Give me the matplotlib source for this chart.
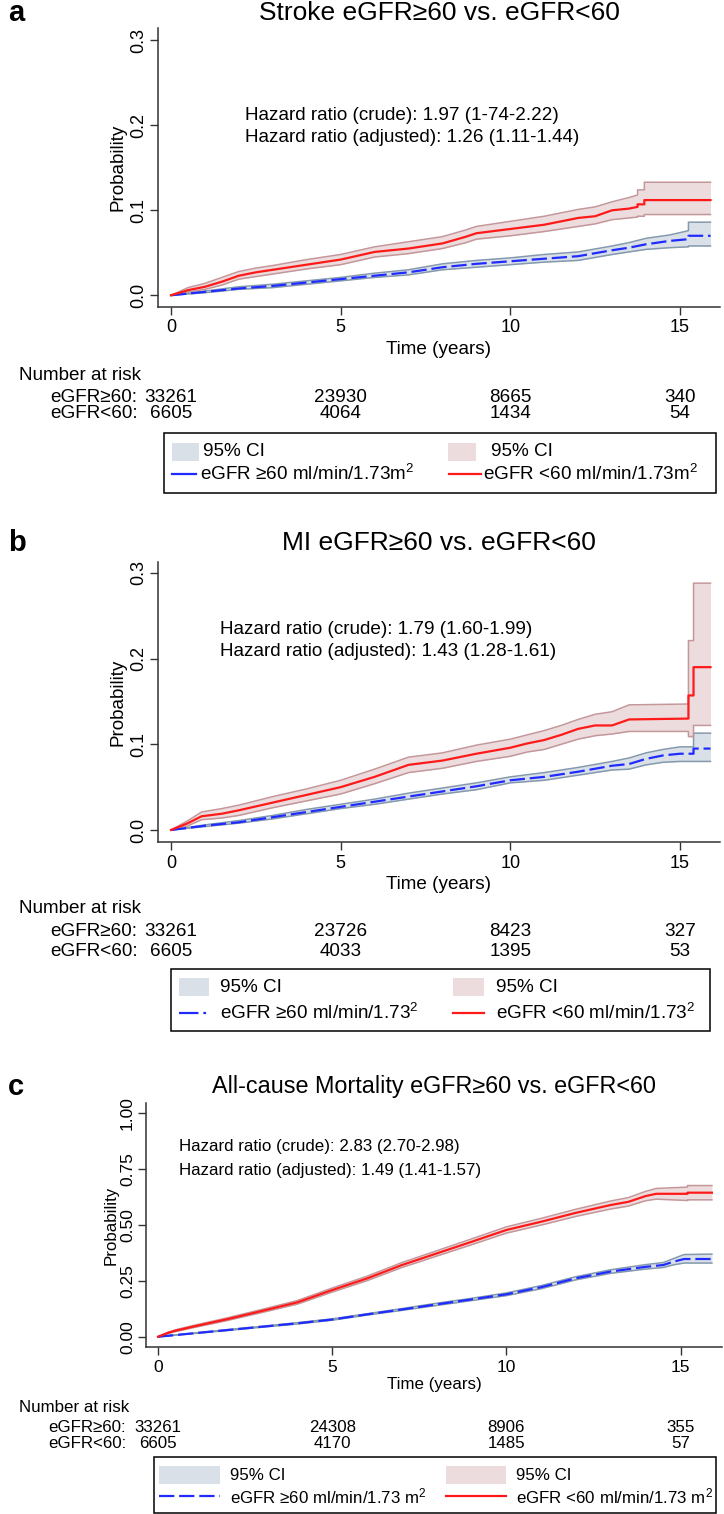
import matplotlib
matplotlib.use('Agg')
import matplotlib.pyplot as plt
from matplotlib.patches import Rectangle
from matplotlib.lines import Line2D
from matplotlib.transforms import blended_transform_factory

plt.rcParams['font.family'] = ['Liberation Sans', 'DejaVu Sans']
plt.rcParams['lines.scale_dashes'] = False
plt.rcParams['mathtext.fontset'] = 'custom'
plt.rcParams['mathtext.rm'] = 'Liberation Sans'
plt.rcParams['mathtext.it'] = 'Liberation Sans:italic'
plt.rcParams['mathtext.bf'] = 'Liberation Sans:bold'

# ---------------- data ----------------
# Panel a: Stroke
a_title = "Stroke eGFR≥60 vs. eGFR<60"
a_hr = ["Hazard ratio (crude): 1.97 (1-74-2.22)", "Hazard ratio (adjusted): 1.26 (1.11-1.44)"]
a_b_t  = [0, 1, 2, 3, 4, 5, 6, 7, 8, 9, 10, 11, 12, 13, 13.5, 14, 14.7, 15.25, 15.25, 15.9]
a_b_y  = [0, .004, .008, .011, .015, .019, .023, .027, .033, .037, .040, .043, .046, .053, .056, .060, .064, .066, .070, .070]
a_b_hi = [0, .005, .010, .013, .017, .021, .026, .030, .037, .041, .044, .048, .051, .058, .062, .067, .071, .076, .086, .086]
a_b_lo = [0, .003, .007, .009, .013, .017, .021, .024, .030, .033, .036, .039, .041, .048, .051, .054, .056, .057, .058, .058]
a_r_t  = [0, 0.5, 1, 1.5, 2, 2.5, 3, 4, 5, 6, 7, 8, 8.7, 9, 10, 11, 12, 12.5, 13, 13.5, 13.75, 13.75, 13.95, 13.95, 15.9]
a_r_y  = [0, .006, .010, .016, .023, .027, .030, .036, .042, .051, .055, .061, .069, .073, .078, .083, .091, .093, .100, .102, .104, .107, .107, .112, .112]
a_r_hi = [0, .009, .014, .021, .028, .032, .035, .042, .048, .057, .063, .069, .077, .081, .087, .093, .101, .104, .110, .115, .118, .124, .124, .133, .133]
a_r_lo = [0, .004, .007, .012, .019, .022, .025, .031, .036, .045, .049, .055, .062, .066, .070, .075, .081, .084, .089, .091, .092, .093, .093, .095, .095]
a_risk_hi = [33261, 23930, 8665, 340]
a_risk_lo = [6605, 4064, 1434, 54]
a_leg = ["eGFR ≥60 ml/min/1.73m$^2$", "eGFR <60 ml/min/1.73m$^2$"]

# Panel b: MI
b_title = "MI eGFR≥60 vs. eGFR<60"
b_hr = ["Hazard ratio (crude): 1.79 (1.60-1.99)", "Hazard ratio (adjusted): 1.43 (1.28-1.61)"]
b_b_t  = [0, 1, 2, 3, 4, 5, 6, 7, 8, 9, 10, 11, 12, 13, 13.5, 14, 14.5, 15, 15.4, 15.4, 15.9]
b_b_y  = [0, .005, .009, .015, .021, .027, .033, .039, .045, .051, .058, .062, .068, .075, .077, .083, .087, .089, .089, .095, .095]
b_b_hi = [0, .006, .011, .017, .024, .030, .036, .043, .049, .055, .062, .067, .073, .080, .084, .090, .094, .097, .097, .113, .113]
b_b_lo = [0, .004, .008, .013, .019, .025, .030, .036, .042, .047, .055, .058, .064, .070, .071, .076, .079, .080, .080, .080, .080]
b_r_t  = [0, 0.5, 0.9, 1.5, 2, 3, 4, 5, 6, 7, 8, 9, 10, 10.5, 11, 11.5, 12, 12.5, 13, 13.5, 15.25, 15.25, 15.4, 15.4, 15.9]
b_r_y  = [0, .008, .016, .019, .023, .032, .041, .050, .062, .076, .081, .089, .096, .101, .105, .111, .118, .122, .122, .129, .130, .157, .157, .190, .190]
b_r_hi = [0, .011, .021, .025, .029, .039, .048, .058, .071, .085, .090, .099, .106, .111, .116, .122, .129, .135, .138, .146, .147, .221, .221, .288, .288]
b_r_lo = [0, .005, .012, .014, .017, .026, .034, .042, .054, .067, .072, .080, .086, .091, .094, .100, .106, .110, .112, .115, .115, .109, .109, .122, .122]
b_risk_hi = [33261, 23726, 8423, 327]
b_risk_lo = [6605, 4033, 1395, 53]
b_leg = ["eGFR ≥60 ml/min/1.73$^2$", "eGFR <60 ml/min/1.73$^2$"]

# Panel c: All-cause mortality
c_title = "All-cause Mortality eGFR≥60 vs. eGFR<60"
c_hr = ["Hazard ratio (crude): 2.83 (2.70-2.98)", "Hazard ratio (adjusted): 1.49 (1.41-1.57)"]
c_b_t  = [0, 1, 2, 3, 4, 5, 6, 7, 8, 9, 10, 11, 12, 13, 14, 14.5, 14.8, 15.1, 15.9]
c_b_y  = [0, .015, .030, .045, .060, .077, .100, .122, .145, .167, .190, .222, .262, .292, .313, .321, .336, .348, .348]
c_b_hi = [0, .016, .032, .047, .063, .080, .103, .126, .150, .172, .196, .229, .269, .300, .323, .332, .350, .368, .370]
c_b_lo = [0, .014, .028, .043, .057, .074, .097, .118, .140, .162, .184, .215, .255, .284, .303, .310, .322, .330, .330]
c_r_t  = [0, 0.3, 0.5, 1, 2, 3, 4, 5, 6, 7, 8, 9, 10, 11, 12, 13, 13.5, 14, 14.3, 15.2, 15.2, 15.9]
c_r_y  = [0, .018, .027, .045, .079, .116, .154, .209, .261, .321, .373, .425, .478, .515, .555, .590, .604, .630, .640, .640, .645, .645]
c_r_hi = [0, .021, .031, .050, .085, .123, .162, .218, .271, .332, .385, .438, .492, .530, .571, .608, .623, .651, .664, .670, .677, .677]
c_r_lo = [0, .015, .023, .040, .073, .109, .146, .200, .251, .310, .361, .412, .464, .500, .539, .572, .585, .609, .616, .610, .613, .613]
c_risk_hi = [33261, 24308, 8906, 355]
c_risk_lo = [6605, 4170, 1485, 57]
c_leg = ["eGFR ≥60 ml/min/1.73 m$^2$", "eGFR <60 ml/min/1.73 m$^2$"]

risk_times = [0, 5, 10, 15]
x_ticks = [0, 5, 10, 15]
ab_yticks = [0.0, 0.1, 0.2, 0.3]
ab_yticklabels = ["0.0", "0.1", "0.2", "0.3"]
c_yticks = [0.0, 0.25, 0.5, 0.75, 1.0]
c_yticklabels = ["0.00", "0.25", "0.50", "0.75", "1.00"]
group_labels = ["eGFR≥60:", "eGFR<60:"]
ci_label = "95% CI"

# ---------------- styling ----------------
W, H = 724, 1514
fig = plt.figure(figsize=(W / 100, H / 100), dpi=100)

def fx(px):
    return px / W

def fy(py):
    return 1 - py / H

BLUE = '#1f2bff'
RED = '#ff1a1a'
BFILL = '#dae0e8'
BEDGE = '#8499ad'
RFILL = '#ecdcdd'
REDGE = '#c4979b'
BLUE_DASH = (11, 3.5)
SPINE = '#333333'

panels = [
    dict(letter='a', title=a_title, hr=a_hr, fs=13.6, tfs=19, kfs=13,
         b=(a_b_t, a_b_y, a_b_lo, a_b_hi), r=(a_r_t, a_r_y, a_r_lo, a_r_hi),
         risk=(a_risk_hi, a_risk_lo), leg=a_leg,
         yt=ab_yticks, ytl=ab_yticklabels,
         box=(158, 28, 720, 307), xlim=(-0.383, 16.18), ylim=(-0.0138, 0.3145),
         title_y=13, hr_x=245, hr_y=(115, 137), ylab=(118,), xlab_y=350,
         nar_y=(375, 397, 414), lab_x=50,
         lbox=(164, 433, 716, 493), rows=(452, 474),
         p1=(172, 199), t1=203, p2=(448, 476), t2=491,
         l1=(172, 196), lt1=200, l2=(449, 481), lt2=483, ldash=None),
    dict(letter='b', title=b_title, hr=b_hr, fs=13.6, tfs=19, kfs=13,
         b=(b_b_t, b_b_y, b_b_lo, b_b_hi), r=(b_r_t, b_r_y, b_r_lo, b_r_hi),
         risk=(b_risk_hi, b_risk_lo), leg=b_leg,
         yt=ab_yticks, ytl=ab_yticklabels,
         box=(158, 562, 720, 842), xlim=(-0.383, 16.18), ylim=(-0.014, 0.3127),
         title_y=543, hr_x=220, hr_y=(630, 652), ylab=(118,), xlab_y=885,
         nar_y=(909, 931, 951), lab_x=50,
         lbox=(171, 969, 710, 1031), rows=(987, 1013),
         p1=(179, 209), t1=220, p2=(453, 484), t2=496,
         l1=(179, 209), lt1=220, l2=(453, 484), lt2=496, ldash=(14, 3.5, 2, 3.5)),
    dict(letter='c', title=c_title, hr=c_hr, fs=12.2, tfs=16.8, kfs=12.5,
         b=(c_b_t, c_b_y, c_b_lo, c_b_hi), r=(c_r_t, c_r_y, c_r_lo, c_r_hi),
         risk=(c_risk_hi, c_risk_lo), leg=c_leg,
         yt=c_yticks, ytl=c_yticklabels,
         box=(146, 1103, 722, 1347), xlim=(-0.345, 16.19), ylim=(-0.046, 1.0466),
         title_y=1087, hr_x=179, hr_y=(1147, 1170), ylab=(111,), xlab_y=1384,
         nar_y=(1407, 1427, 1444), lab_x=48,
         lbox=(154, 1457, 716, 1513), rows=(1475, 1496),
         p1=(159, 220), t1=230, p2=(446, 506), t2=516,
         l1=(159, 220), lt1=230, l2=(446, 506), lt2=516, ldash=(11, 3.5)),
]

for P in panels:
    l, t, r, b = P['box']
    fs, kfs = P['fs'], P['kfs']
    ax = fig.add_axes([fx(l), fy(b), (r - l) / W, (b - t) / H])
    ax.set_xlim(*P['xlim'])
    ax.set_ylim(*P['ylim'])
    for s in ['top', 'right']:
        ax.spines[s].set_visible(False)
    for s in ['left', 'bottom']:
        ax.spines[s].set_color(SPINE)
        ax.spines[s].set_linewidth(1.1)
    ax.set_xticks(x_ticks)
    ax.set_xticklabels([str(v) for v in x_ticks], fontsize=kfs)
    ax.set_yticks(P['yt'])
    ax.set_yticklabels(P['ytl'], fontsize=kfs, rotation=90, va='center')
    ax.tick_params(axis='both', direction='out', length=6, width=1, color=SPINE)
    ax.tick_params(axis='x', pad=3)
    ax.tick_params(axis='y', pad=2)
    ax.patch.set_alpha(0)

    # bands
    for (tt, yy, lo, hi), fill, edge in [(P['b'], BFILL, BEDGE), (P['r'], RFILL, REDGE)]:
        ax.fill_between(tt, lo, hi, color=fill, lw=0, zorder=1)
        ax.plot(tt, lo, color=edge, lw=1.1, zorder=2)
        ax.plot(tt, hi, color=edge, lw=1.1, zorder=2)
    tt, yy, lo, hi = P['b']
    ax.plot(tt, yy, color=BLUE, lw=1.6, dashes=BLUE_DASH, zorder=4)
    tt, yy, lo, hi = P['r']
    ax.plot(tt, yy, color=RED, lw=1.6, zorder=4)

    cx = (l + r) / 2
    fig.text(fx(8), fy(P['title_y']), P['letter'], fontsize=21, fontweight='bold',
             ha='left', va='center')
    fig.text(fx(cx), fy(P['title_y']), P['title'], fontsize=P['tfs'], ha='center', va='center')
    for s, yy_ in zip(P['hr'], P['hr_y']):
        fig.text(fx(P['hr_x']), fy(yy_), s, fontsize=fs, ha='left', va='center')
    fig.text(fx(P['ylab'][0]), fy((t + b) / 2), 'Probability', fontsize=fs,
             rotation=90, ha='center', va='center')
    fig.text(fx(cx), fy(P['xlab_y']), 'Time (years)', fontsize=fs, ha='center', va='center')

    # number at risk
    bt = blended_transform_factory(ax.transData, fig.transFigure)
    fig.text(fx(19), fy(P['nar_y'][0]), 'Number at risk', fontsize=fs, ha='left', va='center')
    for row, (vals, glab) in enumerate(zip(P['risk'], group_labels)):
        yrow = fy(P['nar_y'][row + 1])
        fig.text(fx(P['lab_x']), yrow, glab, fontsize=fs, ha='left', va='center')
        for tv, v in zip(risk_times, vals):
            ax.text(tv, yrow, str(v), transform=bt, fontsize=fs, ha='center',
                    va='center', clip_on=False)

    # legend (drawn manually)
    x0, y0, x1, y1 = P['lbox']
    fig.add_artist(Rectangle((fx(x0), fy(y1)), (x1 - x0) / W, (y1 - y0) / H,
                             transform=fig.transFigure, fill=False, ec='black', lw=1.1))
    ph = 18
    r1, r2 = P['rows']
    for (px0, px1), fill in [(P['p1'], BFILL), (P['p2'], RFILL)]:
        fig.add_artist(Rectangle((fx(px0), fy(r1 + ph / 2)), (px1 - px0) / W, ph / H,
                                 transform=fig.transFigure, fc=fill, ec='none'))
    fig.text(fx(P['t1']), fy(r1), ci_label, fontsize=fs, ha='left', va='center')
    fig.text(fx(P['t2']), fy(r1), ci_label, fontsize=fs, ha='left', va='center')
    bl = Line2D([fx(P['l1'][0]), fx(P['l1'][1])], [fy(r2), fy(r2)],
                transform=fig.transFigure, color=BLUE, lw=1.6)
    if P['ldash'] is not None:
        bl.set_dashes(P['ldash'])
    fig.add_artist(bl)
    fig.add_artist(Line2D([fx(P['l2'][0]), fx(P['l2'][1])], [fy(r2), fy(r2)],
                          transform=fig.transFigure, color=RED, lw=1.6))
    fig.text(fx(P['lt1']), fy(r2), P['leg'][0], fontsize=fs, ha='left', va='center')
    fig.text(fx(P['lt2']), fy(r2), P['leg'][1], fontsize=fs, ha='left', va='center')

fig.savefig('out.png', dpi=100, facecolor='white')
